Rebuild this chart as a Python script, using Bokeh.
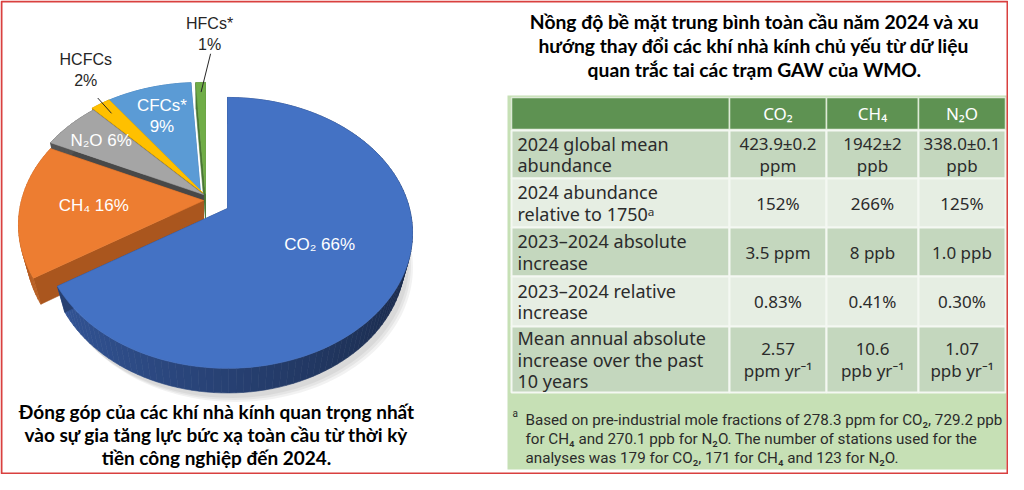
import numpy as np
from bokeh.plotting import figure
from bokeh.models import Range1d
from bokeh.core.properties import value
from bokeh.embed import file_html
from bokeh.resources import INLINE

# ---------------- data ----------------
gases = ["CO₂", "CH₄", "N₂O", "HCFCs", "CFCs*", "HFCs*"]
shares = [66, 16, 6, 2, 9, 1]

table_columns = ["CO₂", "CH₄", "N₂O"]
row_labels = [
    "2024 global mean\nabundance",
    "2024 abundance\nrelative to 1750ᵃ",
    "2023–2024 absolute\nincrease",
    "2023–2024 relative\nincrease",
    "Mean annual absolute\nincrease over the past\n10 years",
]
co2_values = ["423.9±0.2\nppm", "152%", "3.5 ppm", "0.83%", "2.57\nppm yr⁻¹"]
ch4_values = ["1942±2\nppb", "266%", "8 ppb", "0.41%", "10.6\nppb yr⁻¹"]
n2o_values = ["338.0±0.1\nppb", "125%", "1.0 ppb", "0.30%", "1.07\nppb yr⁻¹"]

footnote_lines = [
    "Based on pre-industrial mole fractions of 278.3 ppm for CO₂, 729.2 ppb",
    "for CH₄ and 270.1 ppb for N₂O. The number of stations used for the",
    "analyses was 179 for CO₂, 171 for CH₄ and 123 for N₂O.",
]
table_title = [
    "Nồng độ bề mặt trung bình toàn cầu năm 2024 và xu",
    "hướng thay đổi các khí nhà kính chủ yếu từ dữ liệu",
    "quan trắc tai các trạm GAW của WMO.",
]
pie_caption = [
    "Đóng góp của các khí nhà kính quan trọng nhất",
    "vào sự gia tăng lực bức xạ toàn cầu từ thời kỳ",
    "tiền công nghiệp đến 2024.",
]

# ---------------- styles ----------------
top_colors = ["#4472C4", "#ED7D31", "#A5A5A5", "#FFC000", "#5B9BD5", "#70AD47"]
side_light = ["#34579B", "#B95F23", "#555555", "#C79500", "#3F7DB9", "#54863B"]
side_dark = ["#1A2A4A", "#9C4E1A", "#3A3A3A", "#A67C00", "#2D5F8E", "#3F672C"]
offsets = [(0, 0), (-24, -8), (-24, -14), (-25, -16), (-27, -15), (-22, -15)]

K, S, C, RC = 182.0, 0.720, 0.694, 0.18
RR = RC / C
APEX = (227.0, 208.0)
H = 0.22

p = figure(width=1008, height=474, x_range=Range1d(0, 1008), y_range=Range1d(474, 0),
           output_backend="svg", toolbar_location=None, min_border=0,
           x_axis_location=None, y_axis_location=None)
p.grid.visible = False
p.outline_line_color = None
p.background_fill_color = "white"
p.border_fill_color = "white"


def proj(X, Y, Z, off):
    den = 1 + RR * (Z * C - Y * S)
    sx = K * X / den
    sy = K * (Y * C + Z * S) / den
    return APEX[0] + off[0] + sx, APEX[1] + off[1] - sy


def hex2rgb(h):
    return np.array([int(h[i:i + 2], 16) for i in (1, 3, 5)], dtype=float)


def lerp(c1, c2, t):
    a, b = hex2rgb(c1), hex2rgb(c2)
    c = a + (b - a) * t
    return "#%02x%02x%02x" % tuple(int(round(v)) for v in c)


edges = np.concatenate([[0], np.cumsum(shares)]) * 360.0 / sum(shares)

# shadow
sh_xs, sh_ys = [], []
t0, t1 = edges[0], edges[1]
ph = np.radians(np.linspace(t0, t1, 120))
for k in range(3):
    o = (4 + 2 * k, 5 + 2 * k)
    pts = [proj(0, -H, 0, o)] + [proj(np.sin(a), -H, np.cos(a), o) for a in ph]
    sh_xs.append([q[0] for q in pts])
    sh_ys.append([q[1] for q in pts])
p.patches(sh_xs, sh_ys, fill_color="#000000", fill_alpha=0.05, line_color=None)

order = [5, 4, 3, 2, 1, 0]
xs, ys, fills = [], [], []
for i in order:
    t0, t1 = edges[i], edges[i + 1]
    n = max(3, int((t1 - t0) / 2) + 2)
    ph = np.radians(np.linspace(t0, t1, n))
    off = offsets[i]
    top = [proj(0, 0, 0, off)] + [proj(np.sin(a), 0, np.cos(a), off) for a in ph]
    bot = [proj(0, -H, 0, off)] + [proj(np.sin(a), -H, np.cos(a), off) for a in ph]
    m = len(top)
    mid = lerp(side_dark[i], side_light[i], 0.5)
    for j in range(m):
        j2 = (j + 1) % m
        quad = [top[j], top[j2], bot[j2], bot[j]]
        xs.append([q[0] for q in quad])
        ys.append([q[1] for q in quad])
        if j == 0 or j2 == 0:
            fills.append(mid)
        else:
            a = 0.5 * (ph[j - 1] + ph[j2 - 1])
            t = (1 - np.sin(a)) / 2
            fills.append(lerp(side_dark[i], side_light[i], t))
    xs.append([q[0] for q in top])
    ys.append([q[1] for q in top])
    fills.append(top_colors[i])
p.patches(xs, ys, fill_color=fills, line_color=fills, line_width=0.6)


def at(i, rho, dphi=0.0):
    a = np.radians(0.5 * (edges[i] + edges[i + 1]) + dphi)
    return proj(rho * np.sin(a), 0, rho * np.cos(a), offsets[i])


LBL = value("Liberation Sans")
inside = {0: 0.55, 1: 0.6, 2: 0.75}
for i, rho in inside.items():
    x, y = at(i, rho)
    p.text([x], [y], text=[f"{gases[i]} {shares[i]}%"], text_color="white", text_font=LBL,
           text_font_size="17px", text_align="center", text_baseline="middle")
x, y = at(4, 0.7)
p.text([x, x], [y - 10.5, y + 10.5], text=[gases[4], f"{shares[4]}%"], text_color="white",
       text_font=LBL, text_font_size="17px", text_align="center", text_baseline="middle")

for i, rin, rout, dphi, nud in [(3, 0.88, 1.06, 1.0, (-12, -18)), (5, 0.9, 1.32, 3.3, (-1, -9))]:
    xa, ya = at(i, rin)
    xb, yb = at(i, rout, dphi)
    p.line([xa, xb], [ya, yb], line_color="#262626", line_width=1)
    lx, ly = xb + nud[0], yb + nud[1]
    p.text([lx, lx], [ly - 21, ly], text=[gases[i], f"{shares[i]}%"], text_color="#262626",
           text_font=LBL, text_font_size="16px", text_align="center", text_baseline="middle")

CAP = value("Lato")
for k, line in enumerate(pie_caption):
    p.text([216], [411 + 23 * k], text=[line], text_color="black", text_font=CAP,
           text_font_style="bold", text_font_size="19px", text_align="center", text_baseline="middle")
for k, line in enumerate(table_title):
    p.text([754], [21 + 24 * k], text=[line], text_color="black", text_font=CAP,
           text_font_style="bold", text_font_size="19.3px", text_align="center", text_baseline="middle")

# ---------------- table ----------------
p.quad(left=[507], right=[1006], top=[95], bottom=[469], fill_color="#C6E0B5", line_color=None)
col_edges = [511, 729, 826, 918, 1005]
row_heights = [48, 49, 49, 50, 66]
head_top, head_bot = 97, 129
row_tops = [130]
for h in row_heights:
    row_tops.append(row_tops[-1] + h)

p.quad(left=col_edges[:-1], right=col_edges[1:], top=[head_top] * 4, bottom=[head_bot] * 4,
       fill_color="#5E9252", line_color="#DDE9D6", line_width=1.5)
TF = value("Noto Sans")
ccx = [(col_edges[k] + col_edges[k + 1]) / 2 for k in range(1, 4)]
p.text(ccx, [113] * 3, text=table_columns, text_color="white", text_font=TF,
       text_font_size="17px", text_align="center", text_baseline="middle")

ql, qr, qt, qb, qf = [], [], [], [], []
for r in range(len(row_labels)):
    for k in range(4):
        ql.append(col_edges[k]); qr.append(col_edges[k + 1])
        qt.append(row_tops[r]); qb.append(row_tops[r + 1])
        qf.append("#C4D7BE" if r % 2 == 0 else "#E6EEE3")
p.quad(left=ql, right=qr, top=qt, bottom=qb, fill_color=qf, line_color="#F4F8F2", line_width=2)

LH = 21.5
for col in range(4):
    tx, ty, tt = [], [], []
    for r in range(len(row_labels)):
        mid = (row_tops[r] + row_tops[r + 1]) / 2
        cell = [row_labels, co2_values, ch4_values, n2o_values][col][r]
        lines = cell.split("\n")
        nl = len(lines)
        for li, line in enumerate(lines):
            tx.append(517 if col == 0 else ccx[col - 1])
            ty.append(mid + (li - (nl - 1) / 2) * LH)
            tt.append(line)
    p.text(tx, ty, text=tt, text_align="left" if col == 0 else "center", text_color="#2B2B2B",
           text_font=TF, text_font_size="18px" if col == 0 else "17px", text_baseline="middle")

FN = value("Roboto")
p.text([512], [413], text=["a"], text_color="#2B2B2B", text_font=FN, text_font_size="10px",
       text_align="left", text_baseline="middle")
p.text([525] * 3, [419 + 19 * k for k in range(3)], text=footnote_lines, text_color="#2B2B2B",
       text_font=FN, text_font_size="15.2px", text_align="left", text_baseline="middle")

# frame border
p.quad(left=[1], right=[1007], top=[1], bottom=[473], fill_color=None, line_color="#D9403F", line_width=2)

open("out.html", "w").write(file_html(p, INLINE))
